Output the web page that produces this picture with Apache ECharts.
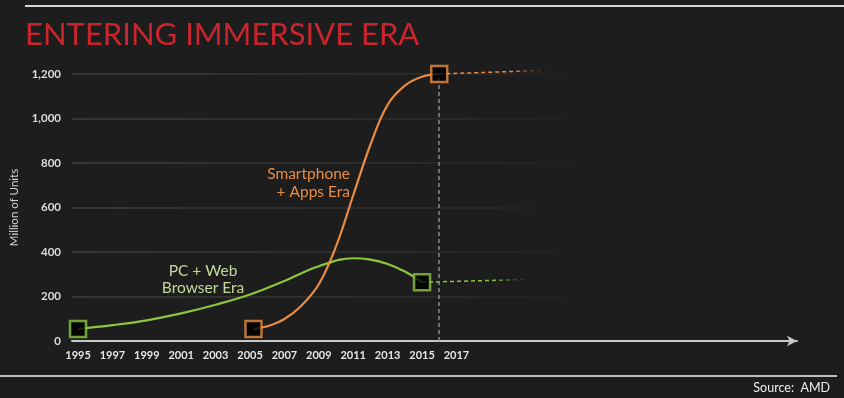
<!DOCTYPE html>
<html>
<head>
    <meta charset="utf-8">
    <title>Entering Immersive Era</title>
    <script src="https://cdn.jsdelivr.net/npm/echarts@6/dist/echarts.min.js"></script>
    <style>
        html, body { margin: 0; padding: 0; background: #1c1d1c; }
        #chart { width: 844px; height: 398px; }
    </style>
</head>
<body>
<div id="chart"></div>
<script>
    // values (million units)
    var xTickYears = [1995, 1997, 1999, 2001, 2003, 2005, 2007, 2009, 2011, 2013, 2015, 2017];

    var pcYears = [1995, 1997, 1999, 2001, 2003, 2005, 2007, 2009, 2011, 2012, 2013, 2014, 2015];
    var pcUnits = [54, 71, 93, 124, 163, 209, 270, 336, 372, 366, 346, 312, 264];

    var phoneYears = [2005.2, 2006, 2007, 2008, 2009, 2010, 2011, 2012, 2013, 2014, 2015, 2016];
    var phoneUnits = [54, 66, 99, 160, 255, 425, 655, 882, 1062, 1148, 1188, 1200];

    var pcTrendYears = [2015, 2021.9], pcTrendUnits = [264, 278];
    var phoneTrendYears = [2016, 2023], phoneTrendUnits = [1200, 1219];

    var GREEN = "#8cc63e", ORANGE = "#ea8c44";

    function pairs(xs, ys) {
        var out = [];
        for (var i = 0; i < xs.length; i++) out.push([xs[i], ys[i]]);
        return out;
    }
    function ends(xs, ys) {
        return [[xs[0], ys[0]], [xs[xs.length - 1], ys[ys.length - 1]]];
    }
    function fade(c) {
        return new echarts.graphic.LinearGradient(0, 0, 1, 0, [
            { offset: 0, color: c }, { offset: 0.6, color: c }, { offset: 1, color: "rgba(0,0,0,0)" }
        ]);
    }

    var chart = echarts.init(document.getElementById("chart"));
    var font = "Lato, 'Noto Sans', sans-serif";

    chart.setOption({
        backgroundColor: "#1c1d1c",
        animation: false,
        textStyle: { fontFamily: font },
        grid: { left: 72, right: 47, top: 74, bottom: 57 },
        xAxis: {
            type: "value", min: 1994.65, max: 2036.8,
            axisLine: { show: true, lineStyle: { color: "#c8c8c8", width: 2 }, symbol: ["none", "arrow"], symbolSize: [8, 10] },
            axisTick: { show: false },
            splitLine: { show: false },
            axisLabel: {
                customValues: xTickYears, color: "#e6e6e6", fontSize: 11, fontWeight: "bold", margin: 9, fontFamily: font,
                formatter: function (v) { return String(v); }
            }
        },
        yAxis: {
            type: "value", min: 0, max: 1200, interval: 200,
            name: "Million of Units", nameLocation: "middle", nameGap: 47,
            nameTextStyle: { color: "#cfcfcf", fontSize: 11.5, fontFamily: font },
            axisLine: { show: false }, axisTick: { show: false },
            axisLabel: {
                color: "#dcdcdc", fontSize: 11.5, fontWeight: "bold", margin: 11, fontFamily: font,
                formatter: function (v) { return v === 0 ? "0" : v.toLocaleString("en-US"); }
            },
            splitLine: {
                lineStyle: {
                    width: 1.5,
                    color: new echarts.graphic.LinearGradient(0, 0, 1, 0, [
                        { offset: 0, color: "rgba(70,72,70,0.8)" },
                        { offset: 0.5, color: "rgba(60,62,60,0.5)" },
                        { offset: 0.72, color: "rgba(60,62,60,0)" },
                        { offset: 1, color: "rgba(60,62,60,0)" }
                    ])
                }
            }
        },
        series: [
            {
                type: "line", data: pairs(pcTrendYears, pcTrendUnits), symbol: "none", clip: false, z: 2,
                lineStyle: { color: fade(GREEN), width: 1.5, type: [4, 3] }
            },
            {
                type: "line", data: pairs(phoneTrendYears, phoneTrendUnits), symbol: "none", clip: false, z: 2,
                lineStyle: { color: fade(ORANGE), width: 1.5, type: [4, 3] }
            },
            {
                type: "line", data: pairs(pcYears, pcUnits), symbol: "none", smooth: 0.4, z: 3,
                lineStyle: { color: GREEN, width: 2.2 }
            },
            {
                type: "line", data: pairs(phoneYears, phoneUnits), symbol: "none", smooth: 0.4, z: 3,
                lineStyle: { color: ORANGE, width: 2.2 },
                markLine: {
                    silent: true, symbol: "none", label: { show: false },
                    lineStyle: { color: "#8a8a8a", type: [4, 3], width: 1.5 },
                    data: [{ xAxis: phoneYears[phoneYears.length - 1] }]
                }
            },
            {
                type: "scatter", data: ends(pcYears, pcUnits), symbol: "rect", symbolSize: 16, z: 5,
                itemStyle: { color: "#000", borderColor: GREEN, borderWidth: 2.5 }
            },
            {
                type: "scatter", data: ends(phoneYears, phoneUnits), symbol: "rect", symbolSize: 16, z: 5,
                itemStyle: { color: "#000", borderColor: ORANGE, borderWidth: 2.5 }
            }
        ],
        graphic: [
            { type: "line", shape: { x1: 25, y1: 6, x2: 844, y2: 6 }, style: { stroke: "#d8d8d8", lineWidth: 2 } },
            { type: "line", shape: { x1: 0, y1: 376, x2: 837, y2: 376 }, style: { stroke: "#bdbdbd", lineWidth: 2 } },
            {
                type: "text", left: 25, top: 19,
                style: { text: "ENTERING IMMERSIVE ERA", fill: "#c9252c", font: "31px " + font }
            },
            {
                type: "text", right: 14, top: 381,
                style: { text: "Source:  AMD", fill: "#eeeeee", font: "12.5px " + font }
            },
            {
                type: "text", x: 350, y: 165,
                style: { text: "Smartphone\n+ Apps Era", fill: ORANGE, font: "15.5px " + font, align: "right", lineHeight: 18 }
            },
            {
                type: "text", x: 203, y: 262,
                style: { text: "PC + Web\nBrowser Era", fill: "#c6d99b", font: "15.5px " + font, align: "center", lineHeight: 17 }
            }
        ]
    });
</script>
</body>
</html>
